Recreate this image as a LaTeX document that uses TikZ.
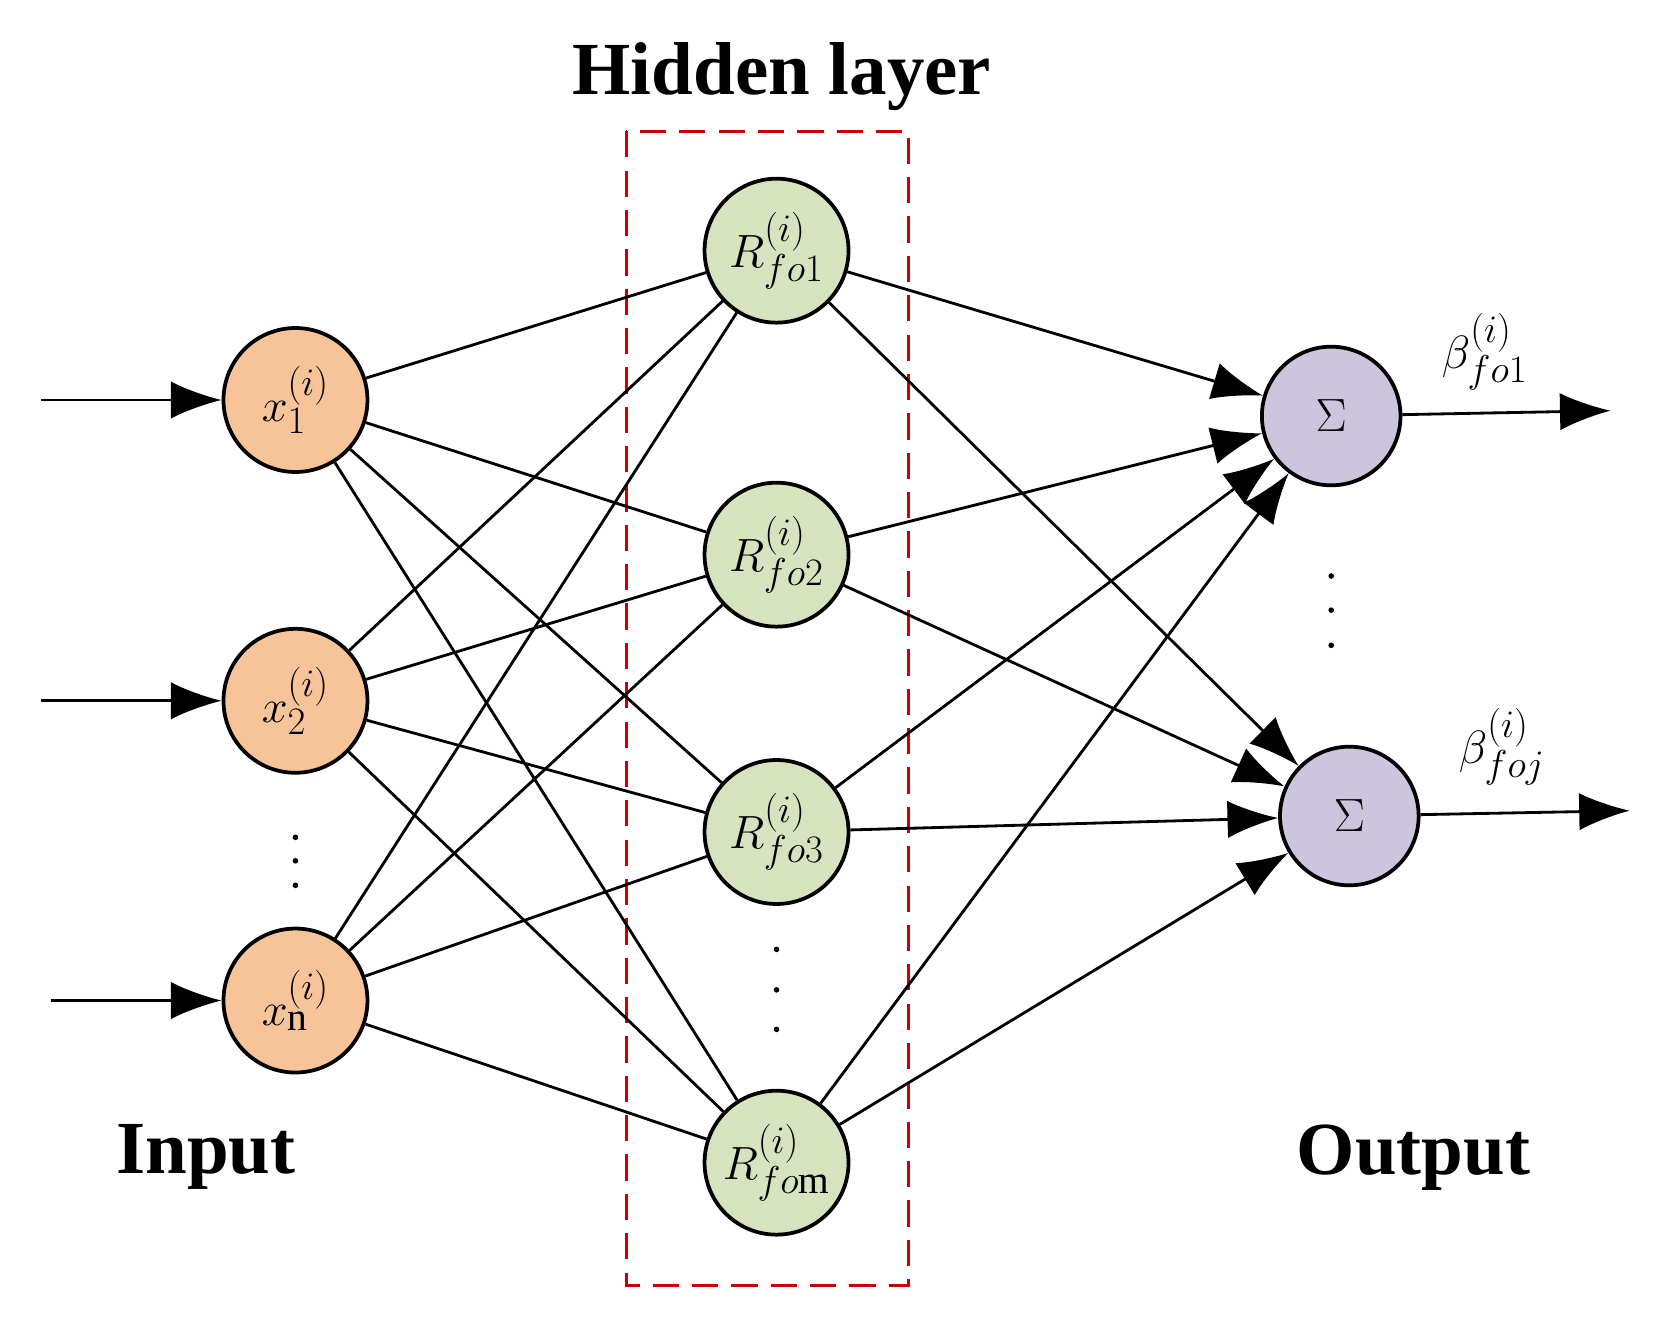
\documentclass[tikz,border=0pt]{standalone}
\usepackage{fontspec}
\setmainfont{Liberation Serif}
\usetikzlibrary{arrows.meta}
\begin{document}
\begin{tikzpicture}[x=0.02cm,y=-0.02cm,
  neuron/.style={circle,draw=black,line width=2pt,minimum size=2.7cm,inner sep=0pt,font=\fontsize{30}{34}\selectfont},
  inn/.style={neuron,fill={rgb,255:red,246;green,196;blue,152}},
  hid/.style={neuron,fill={rgb,255:red,215;green,227;blue,191}},
  outn/.style={neuron,fill={rgb,255:red,205;green,196;blue,222},minimum size=2.6cm},
  con/.style={line width=1.5pt},
  arr/.style={con,-{Latex[length=0.95cm,width=0.7cm]}},
  lab/.style={font=\fontsize{40}{44}\selectfont\bfseries},
  dot/.style={circle,fill=black,inner sep=0pt,minimum size=3pt}]
\useasboundingbox (0,0) rectangle (1560,1247);
\draw[red!80!black,dashed,line width=1.5pt,dash pattern=on 14pt off 7pt] (587,123) rectangle (852,1205);
\node[lab] (hl) at (733,72) {Hidden layer};
\node[lab] (inl) at (193,1085) {Input};
\node[lab] (outl) at (1325,1085) {Output};
\node[inn] (x1) at (277,375) {$x_1^{(i)}$};
\node[inn] (x2) at (277,657) {$x_2^{(i)}$};
\node[inn] (xn) at (277,938) {$x_{\mathrm{n}}^{(i)}$};
\node[hid] (r1) at (728,235) {$R_{fo1}^{(i)}$};
\node[hid] (r2) at (728,520) {$R_{fo2}^{(i)}$};
\node[hid] (r3) at (728,780) {$R_{fo3}^{(i)}$};
\node[hid] (rm) at (728,1090) {$R_{fo\mathrm{m}}^{(i)}$};
\node[outn] (s1) at (1248,390) {$\Sigma$};
\node[outn] (s2) at (1265,765) {$\Sigma$};
\coordinate (a1) at (38,375); \coordinate (a2) at (38,657); \coordinate (an) at (48,938);
\coordinate (b1) at (1510,385); \coordinate (b2) at (1528,760);
\draw[arr] (a1) -- (x1); \draw[arr] (a2) -- (x2); \draw[arr] (an) -- (xn);
\draw[arr] (s1) -- (b1); \draw[arr] (s2) -- (b2);
\node[font=\fontsize{30}{34}\selectfont] (bt1) at (1392,330) {$\beta_{fo1}^{(i)}$};
\node[font=\fontsize{30}{34}\selectfont] (bt2) at (1408,700) {$\beta_{foj}^{(i)}$};
\foreach \a in {x1,x2,xn}{\foreach \b in {r1,r2,r3,rm}{\draw[con] (\a) -- (\b);}}
\foreach \a in {r1,r2,r3,rm}{\foreach \b in {s1,s2}{\draw[arr] (\a) -- (\b);}}
\foreach \y in {785,807,830}{\node[dot] at (277,\y) {};}
\foreach \y in {890,928,965}{\node[dot] at (728,\y) {};}
\foreach \y in {540,572,605}{\node[dot] at (1248,\y) {};}
\end{tikzpicture}
\end{document}
